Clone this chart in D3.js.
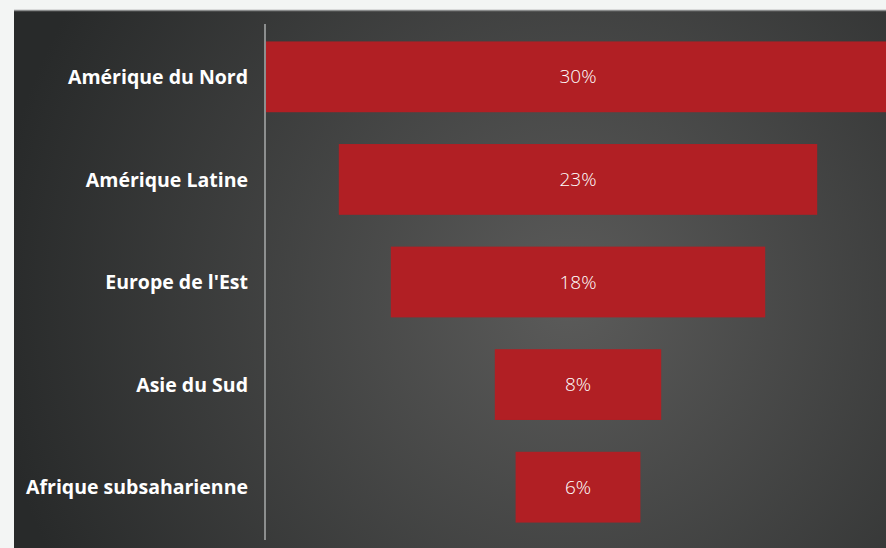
<!DOCTYPE html>
<html>
<head>
<meta charset="utf-8">
<title>Funnel</title>
<script src="https://cdn.jsdelivr.net/npm/d3@7"></script>
<style>
  html, body { margin: 0; padding: 0; background: #f3f5f4; overflow: hidden; }
</style>
</head>
<body>
<div id="chart"></div>
<script>
var regions = ["Amérique du Nord", "Amérique Latine", "Europe de l'Est", "Asie du Sud", "Afrique subsaharienne"];
var shares = [30, 23, 18, 8, 6];

var width = 886, height = 548;
var panel = {x: 14, y: 10};
var axisX = 265, centerX = 578;

var svg = d3.select("#chart").append("svg")
  .attr("width", width)
  .attr("height", height);

var defs = svg.append("defs");
var grad = defs.append("radialGradient")
  .attr("id", "bg")
  .attr("gradientUnits", "userSpaceOnUse")
  .attr("cx", 570).attr("cy", 300).attr("r", 580);
grad.append("stop").attr("offset", "0%").attr("stop-color", "#5b5b5a");
grad.append("stop").attr("offset", "100%").attr("stop-color", "#282a2a");

svg.append("rect")
  .attr("x", panel.x).attr("y", panel.y)
  .attr("width", width - panel.x).attr("height", height - panel.y)
  .attr("fill", "url(#bg)");

svg.append("line")
  .attr("x1", panel.x).attr("x2", width)
  .attr("y1", panel.y + 0.5).attr("y2", panel.y + 0.5)
  .attr("stroke", "#8a8c8c").attr("stroke-width", 1.5);

var y = d3.scaleBand()
  .domain(regions)
  .range([24, 540])
  .paddingInner(0.31)
  .paddingOuter(0.17);

// width of one percent in px, bars are centred on centerX
var w = d3.scaleLinear().domain([0, 30]).range([0, 2 * (centerX - axisX - 1)]);

svg.selectAll(".bar")
  .data(regions)
  .enter().append("rect")
  .attr("class", "bar")
  .attr("x", function(d, i) { return centerX - w(shares[i]) / 2; })
  .attr("y", function(d) { return y(d); })
  .attr("width", function(d, i) { return w(shares[i]); })
  .attr("height", y.bandwidth())
  .attr("fill", "#b11f24");

svg.selectAll(".val")
  .data(regions)
  .enter().append("text")
  .attr("class", "val")
  .attr("x", centerX)
  .attr("y", function(d) { return y(d) + y.bandwidth() / 2; })
  .attr("dy", "0.35em")
  .attr("text-anchor", "middle")
  .attr("fill", "#ffffff")
  .style("font-family", "'Open Sans', sans-serif")
  .style("font-weight", "300")
  .style("font-size", "19px")
  .text(function(d, i) { return shares[i] + "%"; });

var axis = svg.append("g")
  .attr("transform", "translate(" + axisX + ",1)")
  .call(d3.axisLeft(y).tickSize(0).tickPadding(17));
axis.select(".domain")
  .attr("d", "M0,23V539")
  .attr("stroke", "#a9abab")
  .attr("stroke-width", 1.5);
axis.selectAll("text")
  .attr("fill", "#ffffff")
  .style("font-family", "'Open Sans', sans-serif")
  .style("font-weight", "bold")
  .style("font-size", "19.5px");
</script>
</body>
</html>
